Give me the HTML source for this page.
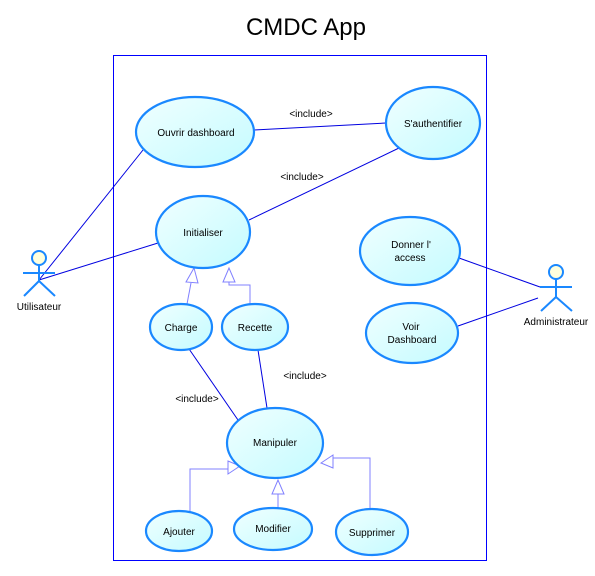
<!DOCTYPE html>
<html><head><meta charset="utf-8"><style>
html,body{margin:0;padding:0;background:#fff;width:595px;height:576px;overflow:hidden}
svg text{font-family:"Liberation Sans",Arial,sans-serif;font-size:10px;fill:#000}
</style></head><body>
<svg width="595" height="576" viewBox="0 0 595 576" xmlns="http://www.w3.org/2000/svg">
<defs>
<linearGradient id="g" x1="0" y1="0" x2="1" y2="1">
<stop offset="0" stop-color="#f0ffff"/><stop offset="1" stop-color="#c4fbff"/>
</linearGradient>
</defs>
<text x="306" y="35" text-anchor="middle" style="font-size:24px">CMDC App</text>
<rect x="113.5" y="55.5" width="373" height="505" fill="none" stroke="#0000ff" stroke-width="1"/>

<g stroke="#0000e0" stroke-width="1" fill="none">
<line x1="39" y1="280" x2="143" y2="150"/>
<line x1="39" y1="280" x2="158" y2="243"/>
<line x1="254" y1="130" x2="386" y2="123"/>
<line x1="249" y1="220" x2="399" y2="148"/>
<line x1="540" y1="287" x2="459" y2="258"/>
<line x1="538" y1="298" x2="458" y2="326"/>
<line x1="187" y1="346" x2="238" y2="420"/>
<line x1="258" y1="350" x2="267" y2="408"/>
</g>
<g stroke="#8080ff" stroke-width="1" fill="none">
<polyline points="187,304 191,283"/>
<polygon points="194,268 186,282 198,283" fill="#fff"/>
<polyline points="250,304 250,285 229,285 229,282"/>
<polygon points="229,268 223,282 235,282" fill="#fff"/>
<polyline points="190,512 190,469 228,469"/>
<polygon points="240,466 228,461 228,474" fill="#fff"/>
<polyline points="278,508 278,494"/>
<polygon points="278,480 272,494 284,494" fill="#fff"/>
<polyline points="370,510 370,458 333,458"/>
<polygon points="321,463 333,455 333,468" fill="#fff"/>
</g>

<g fill="url(#g)" stroke="#1a88ff" stroke-width="2.2">
<ellipse cx="195" cy="132" rx="59" ry="35"/>
<ellipse cx="433" cy="123" rx="47" ry="36"/>
<ellipse cx="203" cy="232" rx="47" ry="36"/>
<ellipse cx="410" cy="251" rx="50" ry="34"/>
<ellipse cx="412" cy="333" rx="46" ry="30"/>
<ellipse cx="181" cy="327" rx="31" ry="23"/>
<ellipse cx="255" cy="327" rx="33" ry="23"/>
<ellipse cx="275" cy="443" rx="48" ry="35"/>
<ellipse cx="179" cy="531" rx="33" ry="20"/>
<ellipse cx="273" cy="529" rx="39" ry="21"/>
<ellipse cx="372" cy="532" rx="36" ry="23"/>
</g>

<text x="196" y="136" text-anchor="middle">Ouvrir dashboard</text>
<text x="433" y="127" text-anchor="middle">S'authentifier</text>
<text x="203" y="236" text-anchor="middle">Initialiser</text>
<text x="411" y="248" text-anchor="middle">Donner l'</text>
<text x="410" y="261" text-anchor="middle">access</text>
<text x="411" y="330" text-anchor="middle">Voir</text>
<text x="412" y="343" text-anchor="middle">Dashboard</text>
<text x="181" y="331" text-anchor="middle">Charge</text>
<text x="255" y="331" text-anchor="middle">Recette</text>
<text x="275" y="446" text-anchor="middle">Manipuler</text>
<text x="179" y="535" text-anchor="middle">Ajouter</text>
<text x="273" y="532" text-anchor="middle">Modifier</text>
<text x="372" y="536" text-anchor="middle">Supprimer</text>

<text x="311" y="117" text-anchor="middle">&lt;include&gt;</text>
<text x="302" y="180" text-anchor="middle">&lt;include&gt;</text>
<text x="305" y="379" text-anchor="middle">&lt;include&gt;</text>
<text x="197" y="402" text-anchor="middle">&lt;include&gt;</text>

<g stroke="#1a88ff" stroke-width="2" fill="none">
<circle cx="39" cy="258" r="7" fill="#ffffdd"/>
<line x1="39" y1="265" x2="39" y2="281"/>
<line x1="23" y1="273" x2="55" y2="273"/>
<line x1="39" y1="281" x2="24" y2="296"/>
<line x1="39" y1="281" x2="55" y2="296"/>
<circle cx="556" cy="272" r="7" fill="#ffffdd"/>
<line x1="556" y1="279" x2="556" y2="297"/>
<line x1="540" y1="287" x2="572" y2="287"/>
<line x1="556" y1="297" x2="541" y2="311"/>
<line x1="556" y1="297" x2="572" y2="311"/>
</g>
<text x="39" y="310" text-anchor="middle">Utilisateur</text>
<text x="556" y="325" text-anchor="middle">Administrateur</text>
</svg>
</body></html>
